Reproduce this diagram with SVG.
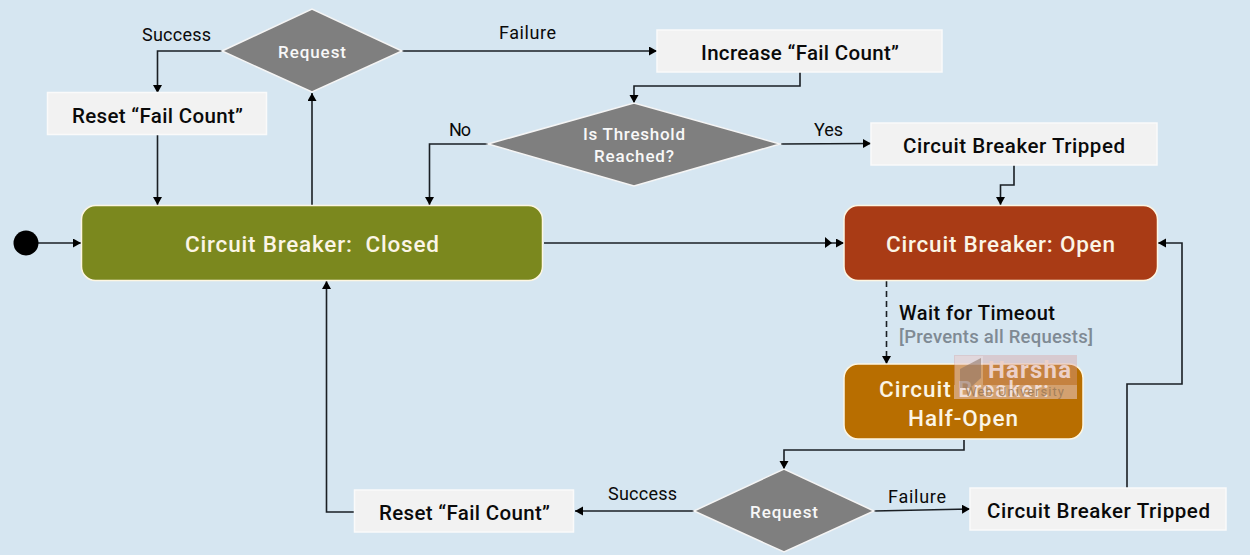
<svg xmlns="http://www.w3.org/2000/svg" width="1250" height="555" viewBox="0 0 1250 555">
<style>
text{font-family:Roboto,"Liberation Sans",sans-serif;text-anchor:middle}
.box{fill:#f2f2f2;stroke:#fafafa;stroke-width:1.5}
.state{stroke:#fdf6e3;stroke-width:1.5}
.dia{fill:#7f7f7f;stroke:#f5f5f5;stroke-width:1.5}
.bt{font-size:20.500px;fill:#0a0a0a;font-weight:500}
.st{font-size:22.500px;fill:#fbf5e6;font-weight:500}
.dt{font-size:17px;fill:#f8f8f8;font-weight:500}
.lb{font-size:18px;fill:#0a0a0a}
.c{fill:none;stroke:#1a1f24;stroke-width:1.6;marker-end:url(#a)}
</style>
<defs><marker id="a" markerUnits="userSpaceOnUse" markerWidth="10" markerHeight="10" refX="8" refY="4.5" orient="auto"><path d="M0 0L8 4.5L0 9Z" fill="#000"/></marker></defs>
<rect width="1250" height="555" fill="#d6e6f1"/>
<g id="connectors">
<path class="c" d="M38 243H81"/>
<path class="c" d="M222 51H157.500V93"/>
<path class="c" d="M157.500 135V205"/>
<path class="c" d="M312 205V93"/>
<path class="c" d="M402 51H657"/>
<path class="c" d="M800 72V86H634V103"/>
<path class="c" d="M488 144H429.500V205"/>
<path class="c" d="M781 144L871 143.500"/>
<path class="c" d="M1014 165V185H1000.500V205"/>
<path class="c" d="M544 243H844"/>
<path d="M825 237L832 243L825 248Z" fill="#000"/>
<path class="c" d="M886.500 281V364" stroke-dasharray="6 4"/>
<path class="c" d="M964 440V450H784V469"/>
<path class="c" d="M874 511L970 509"/>
<path class="c" d="M694 511H575"/>
<path class="c" d="M354 512H326.500V281"/>
<path class="c" d="M1127 488V384H1182V243H1158"/>
</g>
<g id="start"><circle cx="26" cy="243" r="12.500" fill="#000"/></g>
<g id="request-top"><path class="dia" d="M222 51L312 9L402 51L312 92Z"/><text class="dt" x="312" y="58" textLength="68">Request</text></g>
<g id="reset-top"><rect class="box" x="47.500" y="92.500" width="219" height="42"/><text class="bt" x="157.500" y="122.500" textLength="171">Reset “Fail Count”</text></g>
<g id="increase"><rect class="box" x="657" y="30" width="285" height="42"/><text class="bt" x="800" y="59.500" textLength="198">Increase “Fail Count”</text></g>
<g id="threshold"><path class="dia" d="M488 144L634 103L780 144L634 186Z"/><text class="dt" x="634" y="140" textLength="102">Is Threshold</text><text class="dt" x="634" y="162" textLength="80">Reached?</text></g>
<g id="tripped-top"><rect class="box" x="871" y="123" width="286" height="42"/><text class="bt" x="1014" y="152.500" textLength="222">Circuit Breaker Tripped</text></g>
<g id="closed"><rect class="state" x="81.500" y="205.500" width="461" height="75" rx="14" fill="#7b881e"/><text class="st" x="312" y="252" textLength="254" xml:space="preserve">Circuit Breaker:  Closed</text></g>
<g id="open"><rect class="state" x="844" y="205.500" width="313.500" height="75" rx="14" fill="#a93b15"/><text class="st" x="1000.500" y="252" textLength="229">Circuit Breaker: Open</text></g>
<g id="half-open"><rect class="state" x="844" y="364" width="239" height="75" rx="14" fill="#b86e00"/><text class="st" x="964" y="397" textLength="170">Circuit Breaker:</text><text class="st" x="963" y="426" textLength="110">Half-Open</text></g>
<g id="request-bottom"><path class="dia" d="M694 511L784 469L874 511L784 552Z"/><text class="dt" x="784" y="518" textLength="68">Request</text></g>
<g id="reset-bottom"><rect class="box" x="354.500" y="490" width="219" height="42"/><text class="bt" x="464.500" y="519.500" textLength="171">Reset “Fail Count”</text></g>
<g id="tripped-bottom"><rect class="box" x="970" y="488" width="256" height="42"/><text class="bt" x="1098.500" y="517.500" textLength="223">Circuit Breaker Tripped</text></g>
<g id="labels">
<text class="lb" x="176.500" y="41" textLength="69">Success</text>
<text class="lb" x="527.500" y="39" textLength="57">Failure</text>
<text class="lb" x="460" y="136" textLength="22">No</text>
<text class="lb" x="828.500" y="135.500" textLength="29">Yes</text>
<text class="lb" x="642.500" y="500" textLength="69">Success</text>
<text class="lb" x="917" y="503" textLength="58">Failure</text>
<text x="977" y="320" textLength="156" style="font-size:20px;fill:#0a0a0a;font-weight:500">Wait for Timeout</text>
<text x="996" y="343" textLength="194" style="font-size:18.500px;fill:#7f8a94;font-weight:500">[Prevents all Requests]</text>
</g>
<g id="watermark">
<rect x="954" y="355" width="123" height="44" fill="#d9a0a0" opacity=".4"/>
<rect x="954" y="385" width="123" height="14" fill="#fff" opacity=".25"/>
<rect x="955" y="356" width="28" height="29" fill="#fff" opacity=".25"/>
<path d="M960 369L981 358V378L970 388H960Z" fill="#8a7060" opacity=".55"/>
<text x="1029.500" y="378" textLength="83" style="font-size:24px;font-weight:700;fill:#ecd0c8">Harsha</text>
<text x="1014.500" y="396" textLength="99" style="font-size:13px;fill:#9a7a58;opacity:.85">Web University</text>
</g>
</svg>
